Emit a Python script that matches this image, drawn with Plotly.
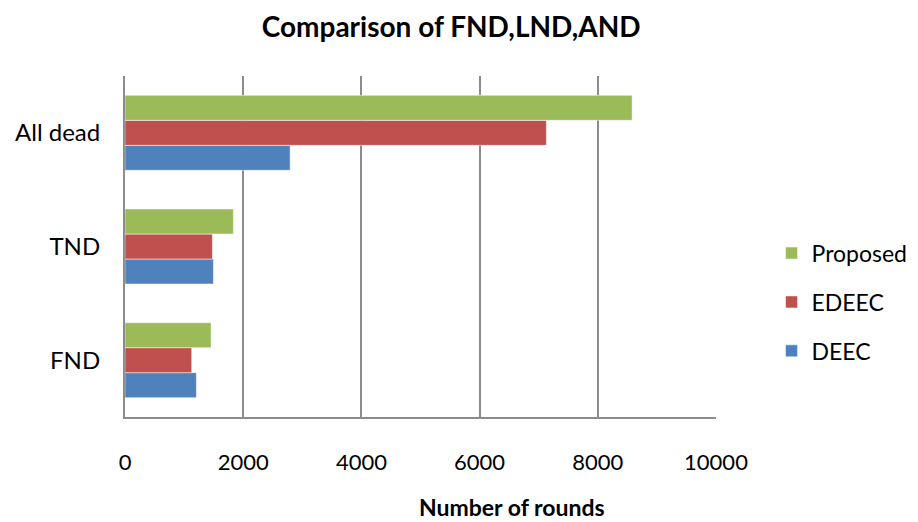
import plotly.graph_objects as go

categories = ["FND", "TND", "All dead"]
deec = [1208, 1496, 2794]
edeec = [1129, 1479, 7130]
proposed = [1456, 1834, 8581]
x_ticks = [0, 2000, 4000, 6000, 8000, 10000]

FONT = "Lato"
fig = go.Figure()
for name, vals, col, rank in [("DEEC", deec, "#4F81BD", 3), ("EDEEC", edeec, "#C0504D", 2),
                              ("Proposed", proposed, "#9BBB59", 1)]:
    fig.add_trace(go.Bar(y=categories, x=vals, name=name, orientation="h", legendgroup=name,
                         legendrank=rank,
                         marker=dict(color=col, line=dict(color="rgba(255,255,255,0.5)", width=1))))

# page body has an 8px margin, so the figure is 910x514 and sits at (8, 8)
fig.update_layout(
    width=910, height=514,
    barmode="group", bargap=0.34, bargroupgap=0,
    plot_bgcolor="white", paper_bgcolor="white",
    margin=dict(l=117, r=202, t=68, b=105, autoexpand=False),
    font=dict(family=FONT, size=20, color="black"),
    title=dict(text="<b>Comparison of FND,LND,AND</b>", x=0.487, xanchor="center", xref="container",
               y=0.963, yanchor="middle", yref="container", font=dict(family=FONT, size=28)),
    legend=dict(x=1.094, y=0.337, xanchor="left", yanchor="middle", traceorder="grouped",
                font=dict(size=23), itemwidth=30, tracegroupgap=16),
    showlegend=True,
    annotations=[dict(text="<b>Number of rounds</b>", x=0.655, y=-0.264, xref="paper", yref="paper",
                      showarrow=False, font=dict(size=23), xanchor="center", yanchor="middle")],
)
fig.update_xaxes(range=[0, 10000], tickvals=x_ticks, ticktext=[str(v) for v in x_ticks],
                 showgrid=True, gridcolor="#8c8c8c", gridwidth=1.5, automargin=False,
                 showline=True, linecolor="#8c8c8c", linewidth=2, zeroline=False,
                 ticklabelstandoff=25, tickfont=dict(size=22))
fig.update_yaxes(showline=True, linecolor="#8c8c8c", linewidth=2, showgrid=False, automargin=False,
                 ticklabelstandoff=18, tickfont=dict(size=24))
fig.write_html("out.html")
